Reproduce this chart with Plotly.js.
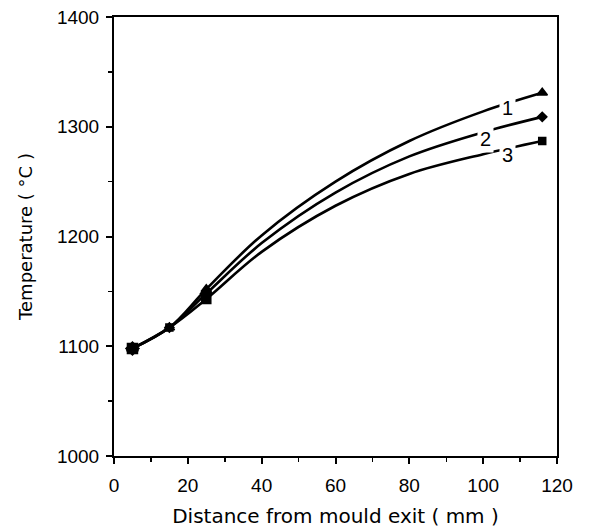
<!DOCTYPE html>
<html>
<head>
<meta charset="utf-8">
<script src="https://cdn.plot.ly/plotly-3.0.1.min.js"></script>
<style>
  html, body { margin: 0; padding: 0; background: #fff; }
  #chart { width: 591px; height: 530px; }
</style>
</head>
<body>
<div id="chart"></div>
<script>
// Distance from mould exit (mm)
const distance = [5, 15, 25, 40, 60, 80, 100, 116];
// Temperature (°C) for the three curves
const curve1 = [1098, 1117, 1152, 1201, 1250, 1287, 1314, 1331];
const curve2 = [1098, 1117, 1148, 1194, 1240, 1273, 1295, 1309];
const curve3 = [1098, 1117, 1143, 1186, 1228, 1257, 1275, 1287];
const curveNames = ['1', '2', '3'];
const curveSymbols = ['triangle-up', 'diamond', 'square'];
// distances at which markers are drawn
const markedDistances = [5, 15, 25, 116];
// curve label positions (distance, temperature)
const labelX = [106.5, 100.5, 106.5];
const labelY = [1317, 1289, 1274];

const series = [curve1, curve2, curve3];
const markerSize = (d, i) => {
  if (!markedDistances.includes(d)) return 0;
  if (d === 5) return 10;
  if (d === 25) return 9;
  return i === 0 ? 9 : 7;
};
const traces = series.map((ys, i) => ({
  x: distance,
  y: ys,
  type: 'scatter',
  mode: 'lines+markers',
  name: curveNames[i],
  line: { color: '#000', width: 2.6, shape: 'spline', smoothing: 1 },
  marker: {
    color: '#000',
    opacity: 1,
    symbol: curveSymbols[i],
    size: distance.map(d => markerSize(d, i)),
    line: { color: '#000', width: 1.5 }
  },
  showlegend: false,
  hoverinfo: 'x+y'
}));

const annotations = curveNames.map((n, i) => ({
  x: labelX[i], y: labelY[i], xref: 'x', yref: 'y',
  text: n, showarrow: false,
  bgcolor: '#fff', borderpad: 2,
  font: { family: 'Liberation Sans, Arial, sans-serif', size: 20, color: '#000' }
}));

const layout = {
  width: 591, height: 530,
  margin: { l: 114, r: 34, t: 17, b: 74 },
  paper_bgcolor: '#fff', plot_bgcolor: '#fff',
  font: { family: 'Liberation Sans, Arial, sans-serif', size: 19, color: '#000' },
  xaxis: {
    range: [0, 120], tick0: 0, dtick: 20,
    showgrid: false, zeroline: false,
    showline: true, linecolor: '#000', linewidth: 2, mirror: true,
    ticks: 'outside', ticklen: 6, tickwidth: 2, tickcolor: '#000',
    ticklabelstandoff: 5,
    minor: { dtick: 10, ticks: 'outside', ticklen: 4, tickwidth: 1.5, tickcolor: '#000', showgrid: false },
    tickfont: { size: 19 },
    title: { text: 'Distance from mould exit ( mm )', font: { size: 20, family: 'DejaVu Sans, sans-serif' }, standoff: 14 }
  },
  yaxis: {
    range: [1000, 1400], tick0: 1000, dtick: 100,
    showgrid: false, zeroline: false,
    showline: true, linecolor: '#000', linewidth: 2, mirror: true,
    ticks: 'outside', ticklen: 6, tickwidth: 2, tickcolor: '#000',
    ticklabelstandoff: 3,
    minor: { dtick: 50, ticks: 'outside', ticklen: 4, tickwidth: 1.5, tickcolor: '#000', showgrid: false },
    tickfont: { size: 19 },
    title: { text: 'Temperature ( °C )', font: { size: 18, family: 'DejaVu Sans, sans-serif' }, standoff: 20 }
  },
  annotations: annotations
};

Plotly.newPlot('chart', traces, layout, { displayModeBar: false, staticPlot: true });
</script>
</body>
</html>
